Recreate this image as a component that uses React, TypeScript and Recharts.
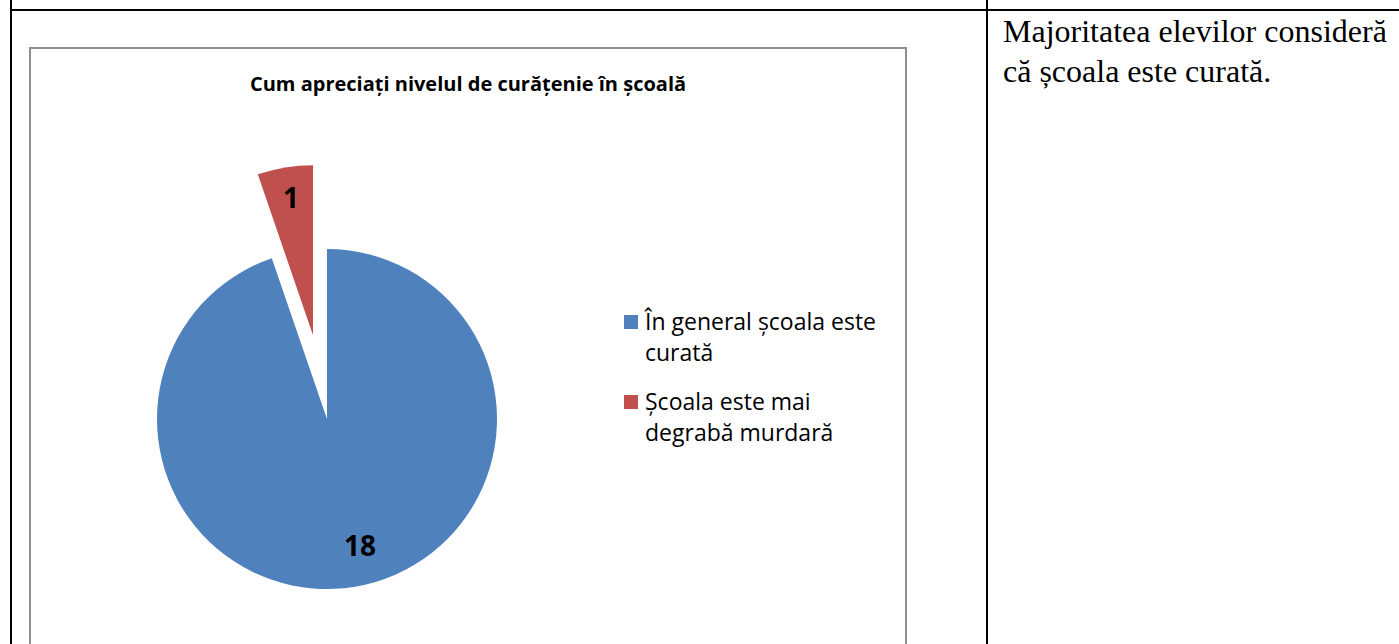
import React from 'react';
import { PieChart, Pie, Cell, Legend } from 'recharts';

const categories = ['În general școala este curată', 'Școala este mai degrabă murdară'];
const values = [18, 1];
const COLORS = ['#4F81BD', '#C0504D'];
const TITLE = 'Cum apreciați nivelul de curățenie în școală';
const NOTE = 'Majoritatea elevilor consideră că școala este curată.';

const data = categories.map((name, i) => ({ name, value: values[i] }));

const CX = 327;
const CY = 419;
const R = 170;
const EXPLODE = 85;
const RAD = Math.PI / 180;
// small label nudges (Excel "best fit" placement), per slice
const LABEL_NUDGE = [
  { dx: 11, dy: -6 },
  { dx: 0, dy: -6 },
];

// angle of the exploded (last) slice, drawn clockwise from 12 o'clock
const total = values.reduce((a, b) => a + b, 0);
const lastStart = 90 - (360 * (total - values[values.length - 1])) / total;
const lastMid = (lastStart + -270) / 2;
const DX = EXPLODE * Math.cos(lastMid * RAD);
const DY = -EXPLODE * Math.sin(lastMid * RAD);

const makeLabel = (only: number) => (props: any) => {
  const { cx, cy, midAngle, outerRadius, index, value } = props;
  if (index !== only) return null;
  const r = outerRadius * 0.79;
  const x = cx + r * Math.cos(-midAngle * RAD) + LABEL_NUDGE[index].dx;
  const y = cy + r * Math.sin(-midAngle * RAD) + LABEL_NUDGE[index].dy;
  return (
    <text
      x={x}
      y={y}
      textAnchor="middle"
      dominantBaseline="central"
      fill="#000"
      fontFamily="'Open Sans', sans-serif"
      fontWeight="bold"
      fontSize={28}
    >
      {value}
    </text>
  );
};

const renderLegend = () => (
  <div style={{ fontFamily: "'Open Sans', sans-serif", fontSize: 23, lineHeight: '31px', color: '#000' }}>
    {categories.map((name, i) => (
      <div key={name} style={{ display: 'flex', alignItems: 'flex-start', marginBottom: 18 }}>
        <div style={{ width: 14, height: 14, background: COLORS[i], marginTop: 9, marginRight: 7, flex: 'none' }} />
        <div style={{ width: 250 }}>{name}</div>
      </div>
    ))}
  </div>
);

export default function App() {
  return (
    <div style={{ position: 'absolute', left: 0, top: 0, width: 1399, height: 644, overflow: 'hidden', background: '#fff' }}>
      {/* table lines */}
      <div style={{ position: 'absolute', left: 10, top: 0, width: 2, height: 644, background: '#000' }} />
      <div style={{ position: 'absolute', left: 986, top: 0, width: 2, height: 644, background: '#000' }} />
      <div style={{ position: 'absolute', left: 10, top: 9, width: 1389, height: 2, background: '#000' }} />

      {/* chart frame */}
      <div
        style={{
          position: 'absolute',
          left: 29,
          top: 47,
          width: 874,
          height: 660,
          border: '2px solid #8f8f8f',
        }}
      />
      <div
        style={{
          position: 'absolute',
          left: 31,
          top: 72,
          width: 874,
          textAlign: 'center',
          fontFamily: "'Open Sans', sans-serif",
          fontWeight: 'bold',
          fontSize: 20,
          lineHeight: '24px',
          color: '#000',
        }}
      >
        {TITLE}
      </div>

      <div style={{ position: 'absolute', left: 0, top: 0 }}>
        <PieChart width={1399} height={644} margin={{ top: 0, right: 0, bottom: 0, left: 0 }}>
          <Pie
            data={data}
            dataKey="value"
            nameKey="name"
            cx={CX}
            cy={CY}
            outerRadius={R}
            startAngle={90}
            endAngle={-270}
            stroke="none"
            labelLine={false}
            label={makeLabel(0)}
            isAnimationActive={false}
          >
            {data.map((d, i) => (
              <Cell key={d.name} fill={i === 0 ? COLORS[0] : 'transparent'} stroke="none" />
            ))}
          </Pie>
          <Pie
            data={data}
            dataKey="value"
            nameKey="name"
            cx={CX + DX}
            cy={CY + DY}
            outerRadius={R}
            startAngle={90}
            endAngle={-270}
            stroke="none"
            labelLine={false}
            label={makeLabel(1)}
            legendType="none"
            isAnimationActive={false}
          >
            {data.map((d, i) => (
              <Cell key={d.name} fill={i === 1 ? COLORS[1] : 'transparent'} stroke="none" />
            ))}
          </Pie>
          <Legend
            layout="vertical"
            align="right"
            verticalAlign="top"
            content={renderLegend}
            wrapperStyle={{ left: 624, right: 'auto', top: 306, width: 280 }}
          />
        </PieChart>
      </div>

      {/* right cell note */}
      <div
        style={{
          position: 'absolute',
          left: 1003,
          top: 11,
          width: 394,
          fontFamily: "'Liberation Serif', 'Times New Roman', serif",
          fontSize: 32,
          lineHeight: '40px',
          color: '#000',
        }}
      >
        {NOTE}
      </div>
    </div>
  );
}
